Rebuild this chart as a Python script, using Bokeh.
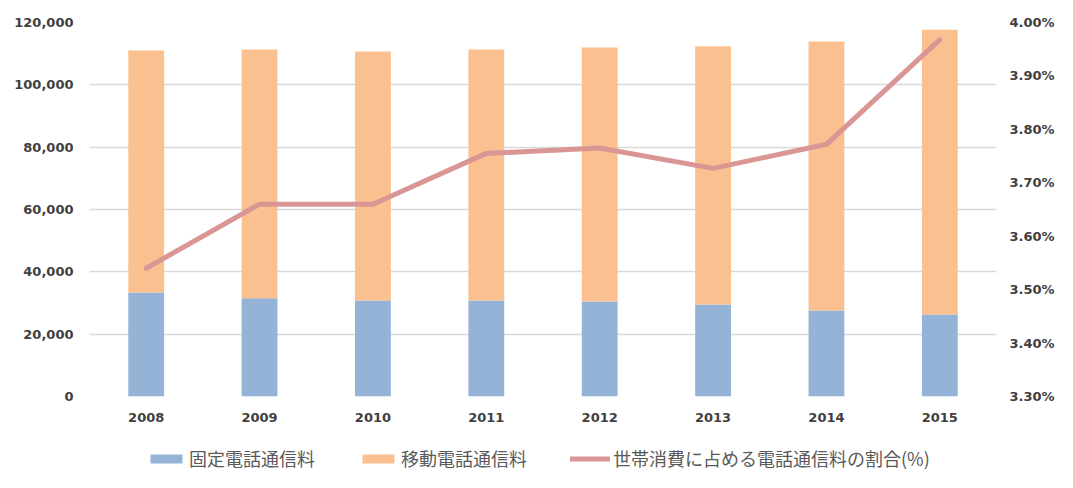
from bokeh.plotting import figure
from bokeh.layouts import column
from bokeh.models import (LinearAxis, Range1d, FixedTicker, NumeralTickFormatter,
                          PrintfTickFormatter, Legend, LegendItem, ColumnDataSource)
from bokeh.embed import file_html
from bokeh.resources import INLINE

years = ["2008", "2009", "2010", "2011", "2012", "2013", "2014", "2015"]
fixed_fee = [33400, 31500, 30800, 30800, 30500, 29500, 27600, 26300]
mobile_fee = [77600, 79800, 79900, 80500, 81500, 82900, 86300, 91400]
share_pct = [3.54, 3.66, 3.66, 3.755, 3.765, 3.727, 3.772, 3.968]
left_ticks = [0, 20000, 40000, 60000, 80000, 100000, 120000]
right_ticks = [3.3, 3.4, 3.5, 3.6, 3.7, 3.8, 3.9, 4.0]
labels = ["固定電話通信料", "移動電話通信料", "世帯消費に占める電話通信料の割合(%)"]

BLUE = "#95b3d7"
ORANGE = "#fac090"
ROSE = "#d99694"
TXT = "#404040"

src = ColumnDataSource(dict(year=years, fixed=fixed_fee, mobile=mobile_fee, pct=share_pct))

p = figure(x_range=years, y_range=Range1d(0, 120000), width=1057, height=430,
           output_backend="svg", toolbar_location=None,
           min_border_left=89, min_border_right=58, min_border_top=22, min_border_bottom=34)
p.extra_y_ranges = {"pct": Range1d(3.3, 4.0)}

bars = p.vbar_stack(["fixed", "mobile"], x="year", width=0.316, color=[BLUE, ORANGE],
                    line_color=None, source=src)
ln = p.line(x="year", y="pct", y_range_name="pct", source=src, line_color=ROSE,
            line_width=5, line_join="round", line_cap="round")

p.yaxis.ticker = FixedTicker(ticks=left_ticks)
p.yaxis.formatter = NumeralTickFormatter(format="0,0")

raxis = LinearAxis(y_range_name="pct", ticker=FixedTicker(ticks=right_ticks),
                   formatter=PrintfTickFormatter(format="%.2f%%"))
p.add_layout(raxis, "right")

for ax, st in ((p.yaxis[0], 16), (raxis, 13), (p.xaxis[0], 16)):
    ax.axis_line_color = None
    ax.major_tick_line_color = None
    ax.minor_tick_line_color = None
    ax.major_tick_out = 0
    ax.major_tick_in = 0
    ax.major_label_standoff = st
    ax.major_label_text_font = "DejaVu Sans"
    ax.major_label_text_font_style = "bold"
    ax.major_label_text_font_size = "13px"
    ax.major_label_text_color = TXT

p.xgrid.grid_line_color = None
p.ygrid.grid_line_color = "#d9d9d9"
p.ygrid.grid_line_width = 1.5
p.outline_line_color = None
p.background_fill_color = "white"
p.border_fill_color = "white"

# legend strip below the chart: same series drawn into a range far away from the data,
# so only their legend entries show
q = figure(width=1057, height=42, output_backend="svg", toolbar_location=None,
           x_range=p.x_range, y_range=Range1d(1e7, 2e7),
           x_axis_type=None, y_axis_type=None, min_border=0)
q.grid.grid_line_color = None
q.outline_line_color = None
q.border_fill_color = "white"
q_bars = q.vbar_stack(["fixed", "mobile"], x="year", width=0.316, color=[BLUE, ORANGE],
                      line_color=None, source=src)
q_line = q.line(x="year", y="pct", source=src, line_color=ROSE, line_width=5,
                line_cap="round")

legend = Legend(items=[LegendItem(label=labels[0], renderers=[q_bars[0]]),
                       LegendItem(label=labels[1], renderers=[q_bars[1]]),
                       LegendItem(label=labels[2], renderers=[q_line])],
                orientation="horizontal", location=(57, 1),
                glyph_width=40, glyph_height=11, label_standoff=3, spacing=43,
                padding=2, margin=0, border_line_color=None, background_fill_alpha=0,
                label_text_font="Noto Sans CJK JP", label_text_font_size="18px",
                label_text_color="#595959")
q.add_layout(legend, "center")

open("out.html", "w").write(file_html(column(p, q), INLINE))
